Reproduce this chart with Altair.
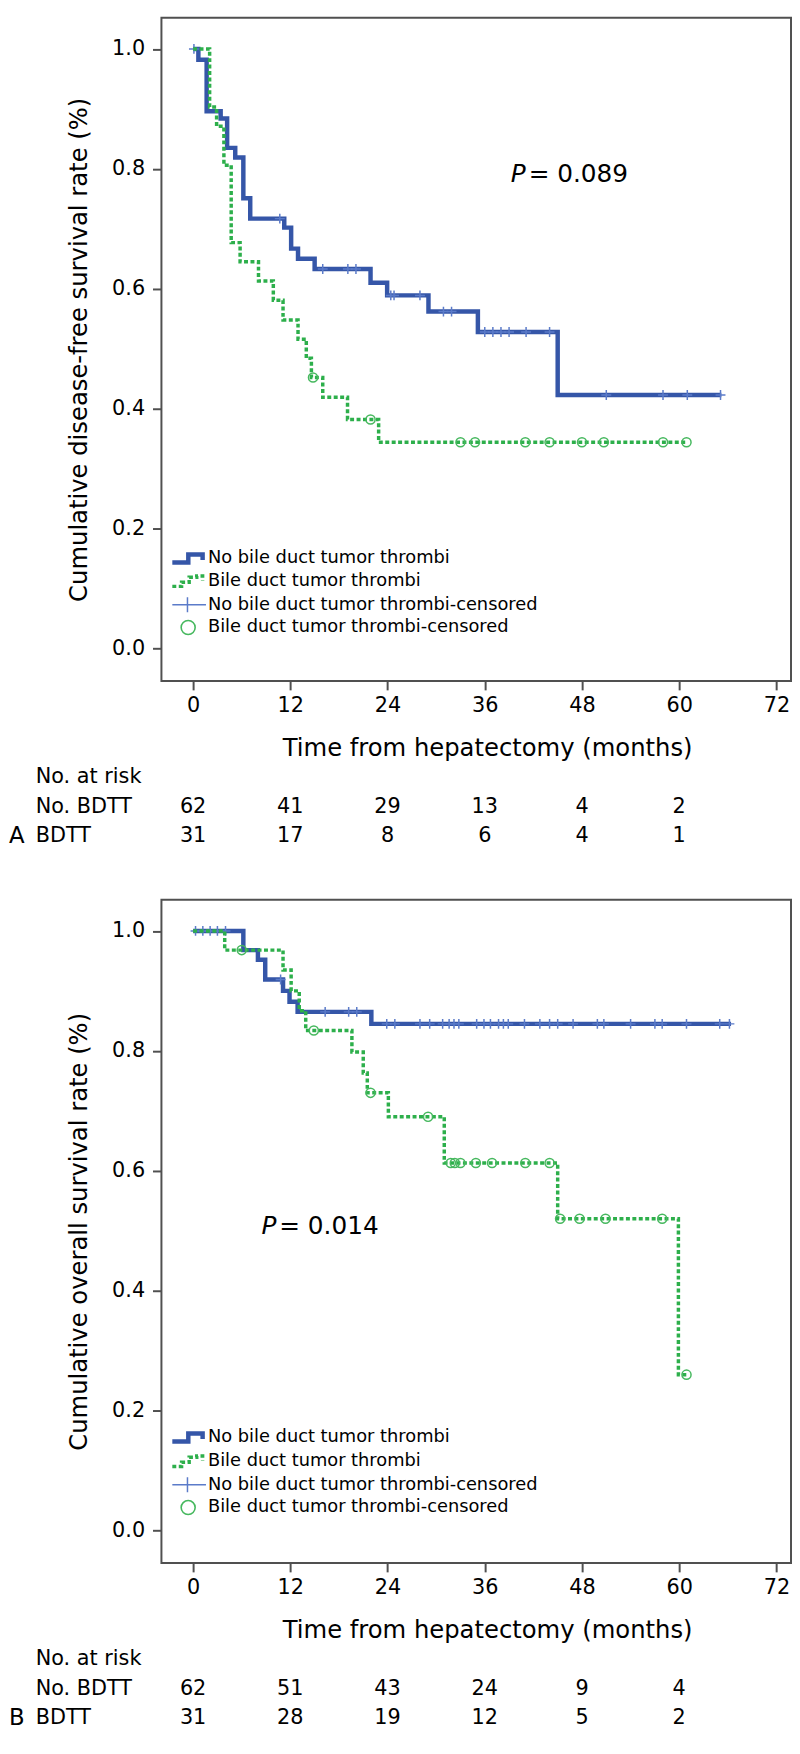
import altair as alt
import pandas as pd

# ---------------- data ----------------
risk_times = [0, 12, 24, 36, 48, 60]
tick_x = [0, 12, 24, 36, 48, 60, 72]
tick_y = [0.0, 0.2, 0.4, 0.6, 0.8, 1.0]

# Panel A: disease-free survival
a_no_t = [0, 0.65, 1.67, 3.4, 4.2, 5.2, 6.2, 7.05, 11.25, 12.1, 12.95, 15.0, 21.9, 23.95, 29.05, 35.15, 45.0, 65.2]
a_no_s = [1.0, 0.982, 0.896, 0.884, 0.835, 0.819, 0.751, 0.717, 0.702, 0.667, 0.65, 0.633, 0.61, 0.589, 0.562, 0.528, 0.423, 0.423]
a_no_cens = [0.1, 10.7, 16.0, 19.1, 20.1, 24.4, 24.8, 28.0, 30.9, 31.9, 36.0, 37.0, 38.0, 39.0, 41.1, 44.0, 51.0, 58.0, 61.0, 65.1]
a_bd_t = [0, 2.04, 2.9, 3.8, 4.7, 5.8, 8.07, 9.9, 11.1, 12.95, 13.97, 14.6, 16.0, 19.06, 22.9, 60.9]
a_bd_s = [1.0, 0.903, 0.871, 0.806, 0.677, 0.645, 0.613, 0.581, 0.548, 0.516, 0.484, 0.452, 0.419, 0.382, 0.344, 0.344]
a_bd_cens = [14.8, 21.9, 33.0, 34.8, 41.0, 44.0, 48.0, 50.7, 58.0, 60.9]
a_risk_no = [62, 41, 29, 13, 4, 2]
a_risk_bd = [31, 17, 8, 6, 4, 1]

# Panel B: overall survival
b_no_t = [0, 6.2, 8.0, 8.9, 11.1, 11.9, 12.9, 22.0, 66.4]
b_no_s = [1.0, 0.968, 0.952, 0.919, 0.90, 0.882, 0.865, 0.845, 0.845]
b_no_cens = [0.3, 1.2, 2.1, 3.0, 4.0, 10.8, 16.3, 19.2, 20.2, 23.9, 24.9, 28.0, 29.2, 30.8, 31.6,
             32.2, 32.8, 35.0, 35.9, 36.7, 37.7, 38.3, 38.9, 40.9, 42.8, 44.0, 45.0, 46.9, 49.9,
             50.7, 54.0, 57.0, 57.9, 60.9, 65.0, 66.2]
b_bd_t = [0, 3.9, 11.1, 12.1, 13.1, 13.9, 19.6, 21.0, 21.5, 24.1, 31.0, 45.0, 59.9, 60.9]
b_bd_s = [1.0, 0.968, 0.935, 0.90, 0.867, 0.834, 0.798, 0.763, 0.73, 0.69, 0.613, 0.52, 0.26, 0.26]
b_bd_cens = [6.0, 14.9, 21.9, 29.0, 31.8, 32.3, 33.0, 34.9, 36.9, 41.0, 44.0, 45.3, 47.7, 50.9, 57.9, 60.9]
b_risk_no = [62, 51, 43, 24, 9, 4]
b_risk_bd = [31, 28, 19, 12, 5, 2]

legend_labels = ["No bile duct tumor thrombi", "Bile duct tumor thrombi",
                 "No bile duct tumor thrombi-censored", "Bile duct tumor thrombi-censored"]

# ---------------- styling ----------------
W, H = 636, 670
X_DOM = [-3.91, 73.8]
Y_DOM = [-0.054, 1.052]
FONT = "DejaVu Sans"
BLUE = "#3556A8"
BLUE_C = "#5B7BC9"
GREEN = "#2DAF4B"
GREEN_C = "#46B85E"
FRAME = "#505050"

PLOT_CROSS = "M-1,0L1,0M0,-1L0,1"
LEG_BLUE_STEP = "M-1,0.25L-0.05,0.25L-0.05,-0.22L0.8,-0.22L0.8,0.1"
LEG_GREEN_STEP = "M-1,0.32L-0.45,0.32L-0.45,0.08L0.0,0.08L0.0,-0.22L0.45,-0.22L0.45,-0.3L0.8,-0.3L0.8,-0.02"
LEG_CROSS = "M-1,0L1,0M-0.1,-0.45L-0.1,0.45"


def step_value(times, survs, t):
    val = survs[0]
    for tt, ss in zip(times, survs):
        if tt <= t:
            val = ss
    return val


def one():
    return pd.DataFrame({"k": [0]})


def label(text, x, y, size=21, align="left", style="normal"):
    return alt.Chart(one()).mark_text(
        font=FONT, fontSize=size, align=align, baseline="middle", color="black", fontStyle=style
    ).encode(x=alt.value(x), y=alt.value(y), text=alt.value(text))


def build_panel(letter, ytitle, no_t, no_s, no_c, bd_t, bd_s, bd_c, risk_no, risk_bd,
                pval, p_x, p_y, leg_y):
    xs = alt.Scale(domain=X_DOM, nice=False, zero=False)
    ys = alt.Scale(domain=Y_DOM, nice=False, zero=False)
    xaxis = alt.Axis(values=tick_x, title="Time from hepatectomy (months)", titleX=329, titleY=68,
                     titleBaseline="middle", titleAlign="center", labelPadding=5,
                     labelFlush=False, labelOverlap=False)
    yaxis = alt.Axis(values=tick_y, format=".1f", title=ytitle, titleX=-83, titleY=H / 2,
                     titleAngle=270, titleBaseline="middle", titleAlign="center",
                     labelPadding=8, labelFlush=False, labelOverlap=False)
    xf = alt.X("t:Q", scale=xs, axis=xaxis)
    yf = alt.Y("s:Q", scale=ys, axis=yaxis)

    df_no = pd.DataFrame({"t": no_t, "s": no_s})
    df_bd = pd.DataFrame({"t": bd_t, "s": bd_s})
    df_no_c = pd.DataFrame({"t": no_c, "s": [step_value(no_t, no_s, t) for t in no_c]})
    df_bd_c = pd.DataFrame({"t": bd_c, "s": [step_value(bd_t, bd_s, t) for t in bd_c]})

    blue_line = alt.Chart(df_no).mark_line(
        interpolate="step-after", color=BLUE, strokeWidth=4.5, strokeJoin="miter"
    ).encode(x=xf, y=yf)
    blue_c = alt.Chart(df_no_c).mark_point(
        shape=PLOT_CROSS, size=100, filled=False, color=BLUE_C, strokeWidth=1.5, opacity=1
    ).encode(x=xf, y=yf)
    green_line = alt.Chart(df_bd).mark_line(
        interpolate="step-after", color=GREEN, strokeWidth=3.5, strokeDash=[4, 2.5]
    ).encode(x=xf, y=yf)
    green_c = alt.Chart(df_bd_c).mark_point(
        shape="circle", size=85, filled=False, color=GREEN_C, strokeWidth=1.5, opacity=1
    ).encode(x=xf, y=yf)

    layers = [blue_line, blue_c, green_line, green_c]

    # P value
    layers.append(label("P", p_x, p_y, size=25, style="italic"))
    layers.append(label(pval, p_x + 18, p_y, size=25))

    # legend
    sym_x = 28
    txt_x = 47
    layers.append(alt.Chart(one()).mark_point(
        shape=LEG_BLUE_STEP, size=1156, filled=False, color=BLUE, strokeWidth=4.5, opacity=1
    ).encode(x=alt.value(sym_x), y=alt.value(leg_y[0])))
    layers.append(alt.Chart(one()).mark_point(
        shape=LEG_GREEN_STEP, size=1156, filled=False, color=GREEN, strokeWidth=3.5,
        strokeDash=[4, 2.5], opacity=1
    ).encode(x=alt.value(sym_x), y=alt.value(leg_y[1])))
    layers.append(alt.Chart(one()).mark_point(
        shape=LEG_CROSS, size=1156, filled=False, color=BLUE_C, strokeWidth=1.5, opacity=1
    ).encode(x=alt.value(sym_x), y=alt.value(leg_y[2])))
    layers.append(alt.Chart(one()).mark_point(
        shape="circle", size=200, filled=False, color=GREEN_C, strokeWidth=1.6, opacity=1
    ).encode(x=alt.value(sym_x - 1), y=alt.value(leg_y[3])))
    for lab, yy in zip(legend_labels, leg_y):
        layers.append(label(lab, txt_x, yy, size=18))

    # number at risk table
    layers.append(label("No. at risk", -127, H + 97))
    layers.append(label("No. BDTT", -127, H + 127))
    layers.append(label("BDTT", -127, H + 157))
    layers.append(label(letter, -154, H + 157, size=23))
    for vals, yy in ((risk_no, H + 127), (risk_bd, H + 157)):
        df_r = pd.DataFrame({"t": risk_times, "n": vals})
        layers.append(alt.Chart(df_r).mark_text(
            font=FONT, fontSize=21, align="center", baseline="middle", color="black"
        ).encode(x=xf, y=alt.value(yy), text="n:Q"))

    return alt.layer(*layers).properties(width=W, height=H)


panel_a = build_panel("A", "Cumulative disease-free survival rate (%)",
                      a_no_t, a_no_s, a_no_cens, a_bd_t, a_bd_s, a_bd_cens,
                      a_risk_no, a_risk_bd, "= 0.089", 353, 158, [546, 569, 593, 616])
panel_b = build_panel("B", "Cumulative overall survival rate (%)",
                      b_no_t, b_no_s, b_no_cens, b_bd_t, b_bd_s, b_bd_cens,
                      b_risk_no, b_risk_bd, "= 0.014", 101, 330, [543, 567, 591, 614])

chart = alt.vconcat(panel_a, panel_b, spacing=221, bounds="flush").properties(
    padding={"left": 0, "right": 0, "top": 0, "bottom": 0}
).configure_view(
    stroke=FRAME, strokeWidth=2
).configure_axis(
    labelFont=FONT, labelFontSize=21, labelColor="black",
    titleFont=FONT, titleFontSize=24.5, titleFontWeight="normal", titleColor="black",
    tickColor=FRAME, tickWidth=2, tickSize=9, domain=False, grid=False
)

chart.save("out.html", embed_options={"renderer": "svg", "actions": False})
